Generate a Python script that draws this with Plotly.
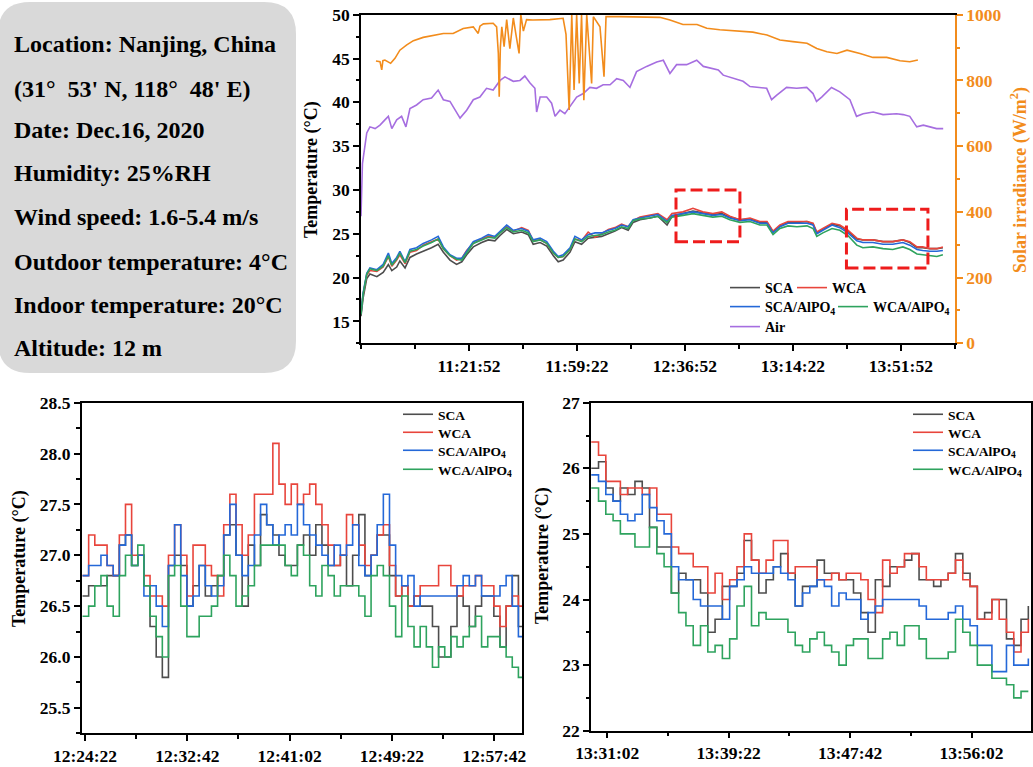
import pandas as pd
import plotly.graph_objects as go

FONT = "Liberation Serif"
C_SCA, C_WCA, C_SCAP, C_WCAP = "#4d4d4d", "#e8453c", "#2468d8", "#2ea35e"
C_AIR, C_SUN, C_BOX = "#a66ee0", "#f28c1c", "#ee1c1c"
W, H = 1033, 767

# ---------------- top panel data (minutes after 10:44:22) ----------------
top_t = [0, 0.7, 2.0, 3.1, 5.5, 7.7, 9.5, 10.7, 12.4, 13.5,
         15.3, 17.0, 19.3, 21.6, 24.5, 26.8, 28.6, 30.9, 33.2, 35.0,
         36.7, 39.0, 41.9, 44.2, 46.5, 48.3, 50.6, 52.9, 55.8, 58.1,
         59.8, 62.2, 64.5, 66.8, 68.5, 70.2, 72.6, 74.3, 76.6, 78.9,
         81.3, 83.6, 85.9, 88.2, 90.5, 92.8, 94.5, 96.9, 100.3, 103.1,
         106.3, 108.0, 111.8, 115.3, 118.7, 122.2, 125.3, 128.1, 131.6, 135.1,
         138.5, 141.0, 143.1, 145.5, 148.3, 151.4, 154.9, 157.0, 158.3, 160.4,
         163.6, 166.3, 169.1, 172.2, 174.3, 177.8, 181.3, 184.7, 188.2, 190.6,
         193.1, 195.1, 197.6, 200.0, 202.1]
top_scap = [15.9, 18.2, 20.5, 21.1, 20.9, 21.5, 22.8, 21.6, 22.3, 23.0,
            21.8, 23.2, 23.4, 23.9, 24.3, 24.7, 23.5, 22.6, 22.2, 22.2,
            23.0, 24.1, 24.5, 24.9, 24.7, 25.3, 26.0, 25.4, 25.6, 25.3,
            24.3, 24.5, 24.1, 23.0, 22.4, 22.6, 23.4, 24.7, 24.3, 24.9,
            25.1, 25.1, 25.4, 25.6, 26.0, 25.8, 26.6, 26.8, 27.0, 27.2,
            26.4, 27.1, 27.3, 27.5, 27.3, 27.1, 27.2, 26.8, 26.5, 26.6,
            26.2, 26.2, 25.1, 25.8, 26.2, 26.2, 26.2, 26.0, 25.0, 25.4,
            26.0, 25.7, 25.1, 24.2, 24.0, 24.0, 23.8, 23.8, 24.0, 23.7,
            23.2, 23.1, 23.0, 23.0, 23.1]
top_wca = [16.0, 18.0, 20.3, 20.8, 20.7, 21.2, 22.4, 21.3, 22.0, 22.6,
           21.6, 22.9, 23.1, 23.7, 24.1, 24.4, 23.3, 22.5, 22.0, 22.2,
           23.1, 23.9, 24.4, 24.7, 24.6, 25.1, 25.8, 25.3, 25.7, 25.4,
           24.2, 24.3, 23.9, 22.8, 22.3, 22.4, 23.2, 24.4, 24.2, 25.2,
           24.6, 25.0, 25.5, 25.7, 26.1, 25.8, 26.5, 26.9, 27.1, 27.3,
           26.6, 27.3, 27.5, 27.9, 27.5, 27.3, 27.5, 27.0, 26.6, 26.8,
           26.4, 26.4, 25.3, 26.0, 26.4, 26.4, 26.4, 26.2, 25.2, 25.6,
           26.2, 26.0, 25.4, 24.5, 24.3, 24.3, 24.1, 24.1, 24.3, 24.1,
           23.5, 23.5, 23.3, 23.3, 23.5]
top_sca = [15.6, 17.6, 19.9, 20.4, 20.1, 20.6, 21.5, 20.8, 21.2, 21.9,
           21.1, 22.3, 22.7, 23.0, 23.4, 23.8, 22.9, 22.0, 21.5, 21.8,
           22.6, 23.5, 24.0, 24.3, 24.2, 24.8, 25.5, 25.0, 25.2, 24.9,
           23.8, 24.0, 23.6, 22.5, 21.8, 22.0, 22.9, 24.1, 23.8, 24.5,
           24.6, 24.7, 25.0, 25.3, 25.7, 25.4, 26.3, 26.6, 26.8, 27.0,
           26.0, 27.0, 27.3, 27.6, 27.4, 27.2, 27.3, 26.9, 26.6, 26.7,
           26.3, 26.3, 25.2, 25.9, 26.3, 26.3, 26.4, 26.1, 25.1, 25.5,
           26.1, 25.9, 25.3, 24.4, 24.3, 24.3, 24.1, 24.1, 24.3, 24.0,
           23.4, 23.4, 23.3, 23.3, 23.4]
top_wcap = [15.8, 18.0, 20.4, 21.0, 20.8, 21.3, 22.5, 21.4, 22.1, 22.8,
            21.7, 23.0, 23.2, 23.6, 24.0, 24.4, 23.3, 22.5, 22.1, 22.0,
            22.8, 23.9, 24.3, 24.6, 24.5, 25.1, 25.7, 25.2, 25.4, 25.1,
            24.1, 24.3, 23.9, 22.8, 22.3, 22.4, 23.2, 24.4, 24.1, 24.7,
            24.8, 24.9, 25.2, 25.4, 25.8, 25.6, 26.5, 26.7, 26.8, 27.0,
            26.3, 26.9, 27.1, 27.3, 27.1, 26.9, 27.0, 26.6, 26.3, 26.4,
            26.0, 26.0, 24.9, 25.6, 25.9, 25.8, 25.9, 25.6, 24.7, 25.1,
            25.6, 25.4, 24.8, 23.7, 23.4, 23.5, 23.3, 23.2, 23.5, 23.2,
            22.7, 22.6, 22.5, 22.4, 22.6]

air_t = [0, 0.5, 2.0, 3.1, 4.9, 6.6, 8.3, 9.5, 10.7, 12.4, 14.1, 15.6, 17.0, 19.3, 21.6,
         24.5, 26.8, 28.6, 30.9, 33.2, 34.4, 36.7, 39.0, 41.3, 43.6, 45.9, 48.3, 50.0,
         52.9, 55.2, 56.9, 58.7, 60.4, 61.0, 62.2, 64.5, 66.2, 67.4, 69.1, 70.8, 72.6,
         74.9, 77.2, 79.5, 81.8, 84.1, 86.5, 88.8, 91.1, 93.4, 95.7, 99.2, 102.7, 105.0,
         107.3, 109.6, 113.1, 116.6, 118.9, 121.2, 124.1, 125.8, 129.3, 132.7, 135.1,
         138.5, 140.9, 142.6, 144.3, 147.8, 151.3, 154.8, 157.0, 158.2, 160.0, 163.4,
         166.3, 169.8, 172.1, 174.4, 177.9, 181.3, 186.0, 188.3, 190.6, 193.0, 195.3,
         197.6, 199.9, 202.2]
air_temp = [27.0, 33.0, 36.5, 37.2, 37.0, 37.4, 38.0, 38.4, 37.0, 38.0, 38.4, 37.2, 39.3,
            39.7, 40.3, 40.5, 41.4, 40.3, 40.1, 38.9, 38.2, 39.1, 40.3, 40.6, 41.6, 41.4,
            42.5, 42.9, 42.4, 42.5, 43.0, 42.2, 41.6, 38.9, 40.6, 40.6, 39.9, 38.4, 39.1,
            38.7, 39.5, 40.6, 41.0, 41.7, 41.6, 42.0, 42.0, 42.7, 42.5, 41.7, 43.5, 44.1,
            44.6, 44.8, 43.3, 44.3, 44.3, 44.8, 44.1, 43.9, 43.7, 43.1, 42.7, 42.4, 41.8,
            41.7, 41.6, 40.3, 40.8, 41.7, 41.6, 41.7, 41.0, 40.1, 40.6, 41.7, 41.2, 40.3,
            38.4, 38.7, 38.9, 38.6, 38.7, 38.6, 38.4, 37.2, 37.4, 37.2, 37.0, 37.0]

solar_t = [5.2, 6.6, 7.2, 7.6, 8.3, 10.3, 11.8, 13.5, 15.9, 18.2, 21.6, 25.1, 28.6, 32.0,
           35.5, 39.0, 40.7, 41.3, 42.5, 45.9, 47.1, 47.7, 48.0, 48.4, 48.9, 49.7, 50.6,
           51.7, 52.9, 53.8, 54.9, 55.5, 56.4, 57.5, 59.7, 65.6, 70.2, 71.2, 72.3, 73.2,
           74.0, 74.9, 75.8, 76.6, 77.4, 78.4, 80.1, 80.7, 83.0, 84.4, 85.1, 89.9, 96.9,
           103.8, 107.3, 111.8, 116.7, 120.1, 124.6, 129.2, 132.6, 136.1, 141.0, 145.5,
           150.0, 154.9, 158.3, 161.8, 165.3, 168.8, 173.3, 177.8, 182.6, 187.2, 190.6, 193.4]
solar_irr = [859, 857, 832, 860, 862, 852, 867, 892, 908, 921, 931, 938, 943, 943, 958, 963,
             943, 965, 972, 974, 963, 882, 750, 900, 963, 903, 985, 897, 990, 940, 882, 1000,
             950, 985, 984, 985, 989, 940, 710, 1000, 771, 1000, 791, 1000, 740, 1000, 791,
             994, 963, 811, 994, 994, 994, 992, 984, 970, 970, 959, 954, 952, 949, 947, 938,
             923, 918, 913, 897, 887, 882, 892, 882, 870, 870, 860, 857, 862]

# ---------------- bottom-left data (30 s steps from 12:24:10) ----------------
bl_sca = [26.6, 26.7, 26.7, 26.7, 26.8, 26.8, 27.1, 27.2, 26.9, 27.0,
          26.7, 26.3, 26.0, 25.8, 26.9, 27.0, 26.9, 26.5, 26.7, 26.9,
          26.6, 26.7, 26.8, 27.2, 27.3, 27.0, 26.5, 27.1, 26.9, 27.4,
          27.3, 27.2, 27.0, 26.9, 26.9, 27.1, 27.2, 27.0, 27.3, 27.1,
          26.9, 26.9, 27.0, 26.7, 27.0, 27.4, 26.8, 27.0, 27.2, 27.2,
          26.8, 26.6, 26.7, 26.5, 26.6, 26.5, 26.5, 26.3, 26.0, 26.0,
          26.3, 26.6, 26.5, 26.3, 26.5, 26.6, 26.6, 26.4, 26.1, 26.5,
          26.8, 26.3, 26.0]
bl_wca = [26.8, 27.2, 27.1, 27.1, 26.9, 26.8, 27.2, 27.5, 27.0, 27.0,
          26.8, 26.6, 26.6, 26.5, 27.0, 27.3, 27.0, 26.6, 27.1, 27.1,
          26.9, 26.8, 26.6, 27.3, 27.6, 27.3, 27.0, 27.2, 27.6, 27.6,
          27.6, 28.1, 27.7, 27.5, 27.7, 27.5, 27.6, 27.7, 27.5, 27.3,
          27.1, 26.9, 27.0, 27.4, 27.3, 27.1, 26.9, 27.0, 27.2, 27.3,
          26.9, 26.6, 26.7, 26.5, 26.6, 26.7, 26.7, 26.7, 26.9, 26.9,
          26.7, 26.6, 26.7, 26.7, 26.8, 26.7, 26.7, 26.5, 26.3, 26.5,
          26.6, 26.5, 26.5]
bl_scap = [26.8, 26.9, 26.9, 27.0, 26.9, 26.8, 27.1, 27.2, 26.9, 27.0,
           26.6, 26.7, 26.5, 26.3, 26.9, 27.3, 26.8, 26.5, 26.6, 26.9,
           26.7, 26.6, 26.7, 27.2, 27.5, 27.0, 26.8, 26.9, 27.2, 27.5,
           27.3, 27.1, 27.2, 27.3, 27.2, 27.5, 27.3, 27.2, 27.1, 27.0,
           26.9, 27.1, 27.0, 27.1, 27.3, 26.9, 26.8, 27.0, 27.3, 27.6,
           27.1, 26.8, 26.7, 26.8, 26.5, 26.6, 26.6, 26.6, 26.6, 26.6,
           26.6, 26.7, 26.8, 26.7, 26.8, 26.6, 26.6, 26.6, 26.7, 26.8,
           26.5, 26.2, 26.2]
bl_wcap = [26.4, 26.5, 26.7, 26.8, 26.5, 26.4, 26.8, 27.0, 26.9, 27.1,
           26.7, 26.4, 26.2, 26.0, 26.8, 26.9, 26.5, 26.2, 26.2, 26.4,
           26.4, 26.5, 26.8, 27.0, 26.8, 26.5, 26.6, 26.7, 26.9, 27.1,
           27.1, 27.1, 27.1, 26.9, 26.8, 27.1, 27.0, 26.7, 26.6, 26.9,
           26.8, 26.6, 26.7, 26.7, 26.7, 26.6, 26.4, 26.8, 26.9, 26.8,
           26.5, 26.2, 26.6, 26.3, 26.1, 26.3, 26.1, 25.9, 26.1, 26.0,
           26.2, 26.1, 26.2, 26.3, 26.4, 26.1, 26.2, 26.2, 26.1, 26.0,
           25.9, 25.8, 25.7]

# ---------------- bottom-right data (30 s steps from 13:29:56) ----------------
br_sca = [26.0, 26.1, 25.7, 25.5, 25.7, 25.6, 25.8, 25.7, 25.1, 24.8,
          24.8, 24.1, 24.4, 24.3, 24.3, 24.1, 23.5, 23.7, 24.2, 24.2,
          24.4, 24.9, 24.6, 24.1, 24.3, 24.5, 24.7, 24.4, 23.9, 24.2,
          24.2, 24.6, 24.4, 24.4, 24.3, 24.3, 24.1, 23.8, 23.5, 24.3,
          24.2, 24.5, 24.5, 24.6, 24.7, 24.3, 24.3, 24.2, 24.3, 24.4,
          24.7, 24.4, 24.2, 23.7, 23.8, 24.0, 24.0, 23.4, 23.3, 23.7,
          23.9]
br_wca = [26.4, 26.2, 25.8, 25.8, 25.6, 25.7, 25.7, 25.6, 25.7, 25.3,
          25.3, 24.8, 24.7, 24.7, 24.5, 24.5, 24.1, 24.4, 24.0, 24.3,
          24.5, 25.0, 24.6, 24.4, 24.6, 24.9, 24.9, 24.4, 24.5, 24.5,
          24.5, 24.3, 24.3, 24.4, 24.3, 24.4, 24.4, 24.3, 24.0, 23.8,
          24.6, 24.4, 24.5, 24.7, 24.7, 24.5, 24.3, 24.3, 24.3, 24.4,
          24.6, 24.3, 24.2, 23.7, 23.7, 24.0, 23.7, 23.5, 23.2, 23.5,
          23.7]
br_scap = [25.9, 25.8, 25.6, 25.5, 25.3, 25.2, 25.3, 25.6, 25.4, 25.2,
           25.0, 24.5, 24.3, 24.3, 24.0, 23.9, 23.9, 23.9, 23.7, 24.2,
           24.3, 24.5, 24.4, 24.4, 24.4, 24.5, 24.4, 24.3, 23.9, 24.1,
           24.2, 24.3, 24.2, 23.9, 24.1, 24.0, 24.0, 23.7, 23.8, 23.9,
           24.0, 24.0, 24.0, 24.0, 24.0, 23.9, 23.7, 23.7, 23.7, 23.8,
           23.9, 23.7, 23.6, 23.3, 23.3, 22.9, 22.9, 23.3, 23.0, 23.0,
           23.1]
br_wcap = [25.7, 25.5, 25.3, 25.2, 25.0, 25.0, 24.8, 24.8, 25.1, 24.7,
           24.5, 24.1, 23.8, 23.6, 23.3, 23.6, 23.2, 23.3, 23.1, 23.4,
           23.9, 24.2, 23.6, 23.8, 23.7, 23.7, 23.7, 23.5, 23.3, 23.2,
           23.4, 23.5, 23.3, 23.2, 23.0, 23.3, 23.4, 23.4, 23.1, 23.1,
           23.4, 23.5, 23.3, 23.6, 23.6, 23.4, 23.1, 23.1, 23.1, 23.2,
           23.7, 23.5, 23.3, 23.0, 23.0, 22.8, 22.8, 22.7, 22.5, 22.6,
           22.6]

# tick labels
top_ticks = ["11:21:52", "11:59:22", "12:36:52", "13:14:22", "13:51:52"]
top_minor = ["10:44:22", "11:03:07", "11:40:37", "12:18:07", "12:55:37", "13:33:07", "14:10:37"]
bl_ticks = ["12:24:22", "12:32:42", "12:41:02", "12:49:22", "12:57:42"]
bl_minor = ["12:28:32", "12:36:52", "12:45:12", "12:53:32"]
br_ticks = ["13:31:02", "13:39:22", "13:47:42", "13:56:02"]
br_minor = ["13:35:12", "13:43:32", "13:51:52"]

info_lines = ["Location: Nanjing, China",
              "(31°\u00a0\u00a053' N, 118°\u00a0\u00a048' E)",
              "Date: Dec.16, 2020",
              "Humidity: 25%RH",
              "Wind speed: 1.6-5.4 m/s",
              "Outdoor temperature: 4°C",
              "Indoor temperature: 20°C",
              "Altitude: 12 m"]

DAY = "2020-12-16 "
T0 = pd.Timestamp(DAY + "10:44:22")


def at(mins):
    return [T0 + pd.Timedelta(minutes=m) for m in mins]


def d(hms):
    return [pd.Timestamp(DAY + s) for s in hms]


def px_x(p):
    return p / W


def px_y(p):
    return 1 - p / H


fig = go.Figure()
SUB = "AlPO<sub>4</sub>"
legend_layout = {}
legfont = dict(family=FONT, size=14, color="black", weight="bold")
n_leg = [0]


def new_legend(xpx, ytop, size=14):
    n_leg[0] += 1
    key = "legend" if n_leg[0] == 1 else f"legend{n_leg[0]}"
    legend_layout[key] = dict(bgcolor="rgba(0,0,0,0)", borderwidth=0, font=dict(legfont, size=size),
                              xanchor="left", yanchor="top", orientation="h", itemwidth=30,
                              x=px_x(xpx), y=px_y(ytop))
    return key


# top panel
tx = at(top_t)
top_specs = [(top_sca, "SCA", C_SCA, 725, 272), (top_wca, "WCA", C_WCA, 792, 272),
             (top_scap, "SCA/" + SUB, C_SCAP, 725, 291), (top_wcap, "WCA/" + SUB, C_WCAP, 833, 291)]
for ys, nm, c, lx, ly in top_specs:
    fig.add_trace(go.Scatter(x=tx, y=ys, name=nm, mode="lines", line=dict(color=c, width=1.6),
                             legend=new_legend(lx, ly)))
fig.add_trace(go.Scatter(x=at(air_t), y=air_temp, name="Air", mode="lines", line=dict(color=C_AIR, width=1.6),
                         legend=new_legend(725, 311)))
fig.add_trace(go.Scatter(x=at(solar_t), y=solar_irr, name="Solar irradiance", mode="lines",
                         line=dict(color=C_SUN, width=1.6), yaxis="y2", showlegend=False))

# bottom panels
bl_x = pd.date_range(DAY + "12:24:10", periods=len(bl_sca), freq="30s")
br_x = pd.date_range(DAY + "13:29:56", periods=len(br_sca), freq="30s")
rows = [399, 417, 435, 454]
for xs, ys_list, xa, ya, lx in [(bl_x, [bl_sca, bl_wca, bl_scap, bl_wcap], "x2", "y3", 398),
                                (br_x, [br_sca, br_wca, br_scap, br_wcap], "x3", "y4", 908)]:
    for ys, nm, c, ry in zip(ys_list, ["SCA", "WCA", "SCA/" + SUB, "WCA/" + SUB],
                             [C_SCA, C_WCA, C_SCAP, C_WCAP], rows):
        fig.add_trace(go.Scatter(x=xs, y=ys, name=nm, mode="lines", line=dict(color=c, width=1.6, shape="hv"),
                                 xaxis=xa, yaxis=ya, legend=new_legend(lx, ry, 13.5)))

tickfont = dict(family=FONT, size=17.5, color="black", weight="bold")
ax_common = dict(showgrid=False, zeroline=False, showline=True, linecolor="black", linewidth=1.5,
                 ticks="outside", ticklen=6, tickwidth=1.5, tickcolor="black", tickfont=tickfont,
                 automargin=False)
minor_common = dict(ticks="outside", ticklen=3.5, tickwidth=1.5, tickcolor="black", showgrid=False)

fig.update_layout(
    width=W, height=H, margin=dict(l=0, r=0, t=0, b=0),
    paper_bgcolor="white", plot_bgcolor="white", template="none",
    font=dict(family=FONT, color="black"),
    xaxis=dict(ax_common, domain=[px_x(361), px_x(955)], anchor="y", type="date",
               range=[T0, T0 + pd.Timedelta(minutes=206.3)], mirror=True,
               tickvals=d(top_ticks), ticktext=top_ticks,
               minor=dict(minor_common, tickvals=d(top_minor))),
    yaxis=dict(ax_common, domain=[px_y(343.3), px_y(14.7)], anchor="x", range=[12.5, 50],
               tickvals=[15, 20, 25, 30, 35, 40, 45, 50], minor=dict(minor_common, dtick=2.5, tick0=12.5)),
    yaxis2=dict(ax_common, overlaying="y", side="right", anchor="x", range=[0, 1000],
                tickvals=[0, 200, 400, 600, 800, 1000], linecolor=C_SUN, tickcolor=C_SUN,
                tickfont=dict(tickfont, color=C_SUN),
                minor=dict(minor_common, dtick=100, tick0=0, tickcolor=C_SUN)),
    xaxis2=dict(ax_common, domain=[px_x(81.7), px_x(522.3)], anchor="y3", type="date",
                range=[pd.Timestamp(DAY + "12:24:06"), pd.Timestamp(DAY + "12:59:59")], mirror=True,
                tickvals=d(bl_ticks), ticktext=bl_ticks, minor=dict(minor_common, tickvals=d(bl_minor))),
    yaxis3=dict(ax_common, domain=[px_y(733.3), px_y(402.7)], anchor="x2", range=[25.25, 28.5], mirror=True,
                tickvals=[25.5, 26.0, 26.5, 27.0, 27.5, 28.0, 28.5], tickformat=".1f",
                minor=dict(minor_common, dtick=0.25, tick0=25.25)),
    xaxis3=dict(ax_common, domain=[px_x(591), px_x(1031)], anchor="y4", type="date",
                range=[pd.Timestamp(DAY + "13:29:55"), pd.Timestamp(DAY + "14:00:07")], mirror=True,
                tickvals=d(br_ticks), ticktext=br_ticks, minor=dict(minor_common, tickvals=d(br_minor))),
    yaxis4=dict(ax_common, domain=[px_y(730.7), px_y(402.7)], anchor="x3", range=[22, 27], mirror=True,
                tickvals=[22, 23, 24, 25, 26, 27], minor=dict(minor_common, dtick=0.5, tick0=22)),
    **legend_layout,
)

shapes = []
# rounded info box
x0, x1, y0, y1, r = -2, 296, 2, 373, 32
X = lambda p: p / W
Y = lambda p: 1 - p / H
path = (f"M {X(x0 + r)},{Y(y0)} L {X(x1 - r)},{Y(y0)} Q {X(x1)},{Y(y0)} {X(x1)},{Y(y0 + r)} "
        f"L {X(x1)},{Y(y1 - r)} Q {X(x1)},{Y(y1)} {X(x1 - r)},{Y(y1)} "
        f"L {X(x0 + r)},{Y(y1)} Q {X(x0)},{Y(y1)} {X(x0)},{Y(y1 - r)} "
        f"L {X(x0)},{Y(y0 + r)} Q {X(x0)},{Y(y0)} {X(x0 + r)},{Y(y0)} Z")
shapes.append(dict(type="path", path=path, xref="paper", yref="paper", fillcolor="#d9d9d9",
                   line=dict(width=0), layer="below"))
for (m0, m1, v0, v1) in [(109.4, 131.6, 24.1, 30.0), (168.6, 196.9, 21.1, 27.8)]:
    shapes.append(dict(type="rect", xref="x", yref="y", x0=T0 + pd.Timedelta(minutes=m0),
                       x1=T0 + pd.Timedelta(minutes=m1), y0=v0, y1=v1,
                       line=dict(color=C_BOX, width=3, dash="12px,5px")))
fig.update_layout(shapes=shapes)

ann = []
info_y = [44, 89, 130, 173, 217, 262, 305, 348]
for txt, yy in zip(info_lines, info_y):
    ann.append(dict(text=txt, x=px_x(12), y=px_y(yy), xref="paper", yref="paper", xanchor="left",
                    yanchor="middle", showarrow=False,
                    font=dict(family=FONT, size=24, color="black", weight="bold")))
tfont = dict(family=FONT, size=18, color="black", weight="bold")
for txt, xx, yy, col in [("Temperature (°C)", 312, 170, "black"),
                         ("Temperature (°C)", 19, 559, "black"),
                         ("Temperature (°C)", 542, 556, "black"),
                         ("Solar irradiance (W/m<sup>2</sup>)", 1019, 180, C_SUN)]:
    ann.append(dict(text=txt, x=px_x(xx), y=px_y(yy), xref="paper", yref="paper", textangle=-90,
                    xanchor="center", yanchor="middle", showarrow=False, font=dict(tfont, color=col)))
fig.update_layout(annotations=ann)

fig.write_html("out.html")
